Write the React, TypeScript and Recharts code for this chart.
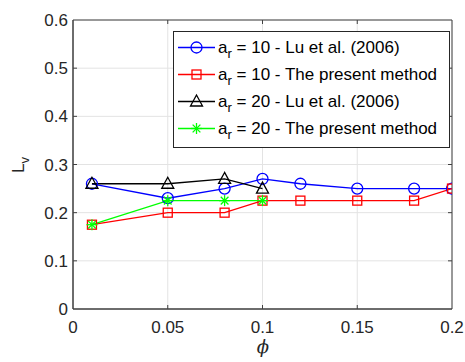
import React from "react";
import { LineChart, Line, XAxis, YAxis, CartesianGrid, ReferenceArea, Legend } from "recharts";

// volume fraction values for the two data sets
const phiAr10 = [0.01, 0.05, 0.08, 0.1, 0.12, 0.15, 0.18, 0.2];
const phiAr20 = [0.01, 0.05, 0.08, 0.1];

// L_v
const lvLuAr10 = [0.26, 0.23, 0.25, 0.27, 0.26, 0.25, 0.25, 0.25];
const lvPresentAr10 = [0.175, 0.2, 0.2, 0.225, 0.225, 0.225, 0.225, 0.25];
const lvLuAr20 = [0.26, 0.26, 0.27, 0.25];
const lvPresentAr20 = [0.175, 0.225, 0.225, 0.225];

const xTicks = [0, 0.05, 0.1, 0.15, 0.2];
const yTicks = [0, 0.1, 0.2, 0.3, 0.4, 0.5, 0.6];

const seriesAr = ["10", "10", "20", "20"];
const seriesSource = ["Lu et al. (2006)", "The present method", "Lu et al. (2006)", "The present method"];
const seriesColor = ["#0000ff", "#ff0000", "#000000", "#00ff00"];
const seriesMarker = ["circle", "square", "triangle", "star"];

const FONT = "'Liberation Sans', Arial, sans-serif";
const AXIS = "#404040";
const TOP = 20;
const BOTTOM = 309;
const LEFT = 73;
const RIGHT = 452;

const toPoints = (xs: number[], ys: number[]) => xs.map((x, i) => ({ x, y: ys[i] }));

const series = [
  toPoints(phiAr10, lvLuAr10),
  toPoints(phiAr10, lvPresentAr10),
  toPoints(phiAr20, lvLuAr20),
  toPoints(phiAr20, lvPresentAr20),
];

function Marker({ kind, cx, cy, color }: { kind: string; cx: number; cy: number; color: string }) {
  const sw = 1.3;
  if (kind === "circle") return <circle cx={cx} cy={cy} r={5.5} fill="none" stroke={color} strokeWidth={sw} />;
  if (kind === "square") return <rect x={cx - 4.5} y={cy - 4.5} width={9} height={9} fill="none" stroke={color} strokeWidth={sw} />;
  if (kind === "triangle")
    return (
      <polygon
        points={`${cx},${cy - 6.5} ${cx - 6},${cy + 4.5} ${cx + 6},${cy + 4.5}`}
        fill="none"
        stroke={color}
        strokeWidth={sw}
      />
    );
  const r = 5.5;
  const d = r * 0.7;
  return (
    <g stroke={color} strokeWidth={sw}>
      <line x1={cx} y1={cy - r} x2={cx} y2={cy + r} />
      <line x1={cx - r} y1={cy} x2={cx + r} y2={cy} />
      <line x1={cx - d} y1={cy - d} x2={cx + d} y2={cy + d} />
      <line x1={cx - d} y1={cy + d} x2={cx + d} y2={cy - d} />
    </g>
  );
}

const XTick = (props: any) => {
  const { x, payload } = props;
  const v = payload.value;
  const inner = v > 0 && v < 0.2;
  return (
    <g>
      {inner && <line x1={x} x2={x} y1={BOTTOM} y2={BOTTOM - 4} stroke={AXIS} />}
      {inner && <line x1={x} x2={x} y1={TOP} y2={TOP + 4} stroke={AXIS} />}
      <text x={x} y={BOTTOM + 24} textAnchor="middle" fontSize={17} fontFamily={FONT} fill="#262626">
        {v}
      </text>
    </g>
  );
};

const YTick = (props: any) => {
  const { y, payload } = props;
  const v = payload.value;
  const inner = v > 0 && v < 0.6;
  return (
    <g>
      {inner && <line x1={LEFT} x2={LEFT + 4} y1={y} y2={y} stroke={AXIS} />}
      {inner && <line x1={RIGHT} x2={RIGHT - 4} y1={y} y2={y} stroke={AXIS} />}
      <text x={LEFT - 5} y={y + 6} textAnchor="end" fontSize={17} fontFamily={FONT} fill="#262626">
        {v}
      </text>
    </g>
  );
};

function LegendBox() {
  return (
    <div
      style={{
        border: "1px solid #262626",
        background: "#fff",
        boxSizing: "border-box",
        width: 277,
        height: 117,
        paddingTop: 2,
        fontFamily: FONT,
        fontSize: 17,
        color: "#000",
      }}
    >
      {seriesAr.map((ar, i) => (
        <div key={i} style={{ height: 27, display: "flex", alignItems: "center" }}>
          <svg width={44} height={27} style={{ flex: "none" }}>
            <line x1={4} x2={41} y1={13.5} y2={13.5} stroke={seriesColor[i]} strokeWidth={1.3} />
            <Marker kind={seriesMarker[i]} cx={22.5} cy={13.5} color={seriesColor[i]} />
          </svg>
          <span style={{ whiteSpace: "nowrap", lineHeight: "27px" }}>
            a<sub style={{ fontSize: 13, verticalAlign: -5, lineHeight: 0 }}>r</sub> = {ar} - {seriesSource[i]}
          </span>
        </div>
      ))}
    </div>
  );
}

const YLabel = () => (
  <text transform="translate(24,165) rotate(-90)" textAnchor="middle" fontSize={17} fontFamily={FONT} fill="#262626">
    L<tspan fontSize={13} dy={5}>v</tspan>
  </text>
);

const XLabel = () => (
  <text x={263} y={353} textAnchor="middle" fontSize={18} fontStyle="italic" fontFamily="'DejaVu Serif', serif" fill="#262626">
    {"\u03D5"}
  </text>
);

export default function App() {
  return (
    <div style={{ position: "absolute", left: 0, top: 0, width: 465, height: 362, background: "#fff" }}>
      <LineChart width={465} height={362} margin={{ top: TOP, right: 465 - RIGHT, left: 0, bottom: 0 }}>
        <CartesianGrid stroke="#e3e3e3" strokeWidth={1} />
        <XAxis
          dataKey="x"
          type="number"
          domain={[0, 0.2]}
          ticks={xTicks}
          allowDataOverflow
          height={362 - BOTTOM}
          stroke={AXIS}
          tickLine={false}
          tickSize={0}
          tickMargin={0}
          tick={<XTick />}
          label={<XLabel />}
          interval={0}
        />
        <YAxis
          type="number"
          domain={[0, 0.6]}
          ticks={yTicks}
          width={LEFT}
          stroke={AXIS}
          tickLine={false}
          tickSize={0}
          tickMargin={0}
          tick={<YTick />}
          label={<YLabel />}
          interval={0}
        />
        <ReferenceArea x1={0} x2={0.2} y1={0} y2={0.6} fill="none" stroke={AXIS} strokeWidth={1} />
        {series.map((data, i) => (
          <Line
            key={i}
            data={data}
            dataKey="y"
            stroke={seriesColor[i]}
            strokeWidth={1.3}
            isAnimationActive={false}
            dot={(p: any) => (
              <Marker key={`m-${i}-${p.index}`} kind={seriesMarker[i]} cx={p.cx} cy={p.cy} color={seriesColor[i]} />
            )}
            activeDot={false}
          />
        ))}
        <Legend
          verticalAlign="middle"
          align="center"
          content={() => <LegendBox />}
          wrapperStyle={{ position: "absolute", left: 173, top: 31, width: 277, height: 117 }}
        />
      </LineChart>
    </div>
  );
}
